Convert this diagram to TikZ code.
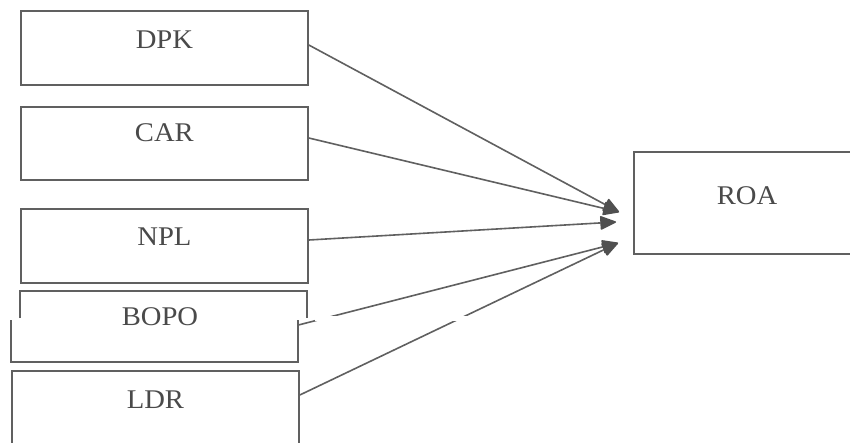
\documentclass[tikz,border=0pt]{standalone}
\usepackage{fontspec}
\setmainfont{Liberation Serif}
\usetikzlibrary{arrows.meta,calc}
\definecolor{ink}{HTML}{606060}
\definecolor{txt}{HTML}{4A4A4A}
\definecolor{headc}{HTML}{505050}
\tikzset{
  box/.style={draw=ink, line width=1.8pt, rectangle, inner sep=0pt, anchor=north west},
  edge/.style={draw=ink, line width=1.8pt},
  lbl/.style={text=txt, font=\fontsize{27}{31}\selectfont, inner sep=0pt, xscale=1.06},
  link/.style={draw=ink, line width=1.6pt, -{Triangle[length=17pt,width=14pt,fill=headc,color=headc,round]}},
}
\begin{document}
\begin{tikzpicture}[x=1pt,y=-1pt]
\useasboundingbox (0,0) rectangle (850,442);
\fill[white] (0,0) rectangle (850,442);
\begin{scope}
\clip (0,0) rectangle (850,442);
% boxes
\node[box, minimum width=287pt, minimum height=74pt] (dpk) at (20,10) {};
\node[lbl] at ($(dpk.north)+(0,30)$) {DPK};
\node[box, minimum width=287pt, minimum height=73pt] (car) at (20,106) {};
\node[lbl] at ($(car.north)+(0,27)$) {CAR};
\node[box, minimum width=287pt, minimum height=74pt] (npl) at (20,208) {};
\node[lbl] at ($(npl.north)+(0,29)$) {NPL};
% BOPO box (scanned in two shifted pieces)
\node[inner sep=0pt, minimum width=287pt, minimum height=71pt, anchor=north west] (bopo) at (11,291) {};
\draw[edge] (20,318) -- (20,291) -- (307,291) -- (307,318);
\draw[edge] (11,320) -- (11,362) -- (298,362) -- (298,320);
\node[lbl] at (160,317) {BOPO};
\node[box, minimum width=287pt, minimum height=80pt] (ldr) at (11,370) {};
\node[lbl] at ($(ldr.north)+(0,30)$) {LDR};
\node[box, minimum width=240pt, minimum height=102pt] (roa) at (633,151) {};
\node[lbl] at (747,196) {ROA};
% arrow tips
\coordinate (t1) at (619,212);
\coordinate (t2) at (616,222);
\coordinate (t3) at (618,243);
% connectors
\draw[link] ($(dpk.north east)+(0,35)$) -- (t1);
\draw[link] ($(car.north east)+(0,32)$) -- (t1);
\draw[link] ($(npl.north east)+(0,32)$) -- (t2);
\draw[link] ($(bopo.north east)+(0,34)$) -- (t3);
\draw[link] ($(ldr.north east)+(0,25)$) -- (t3);
% scan seam
\fill[white] (315,315.5) rectangle (480,320.5);
\end{scope}
\end{tikzpicture}
\end{document}
